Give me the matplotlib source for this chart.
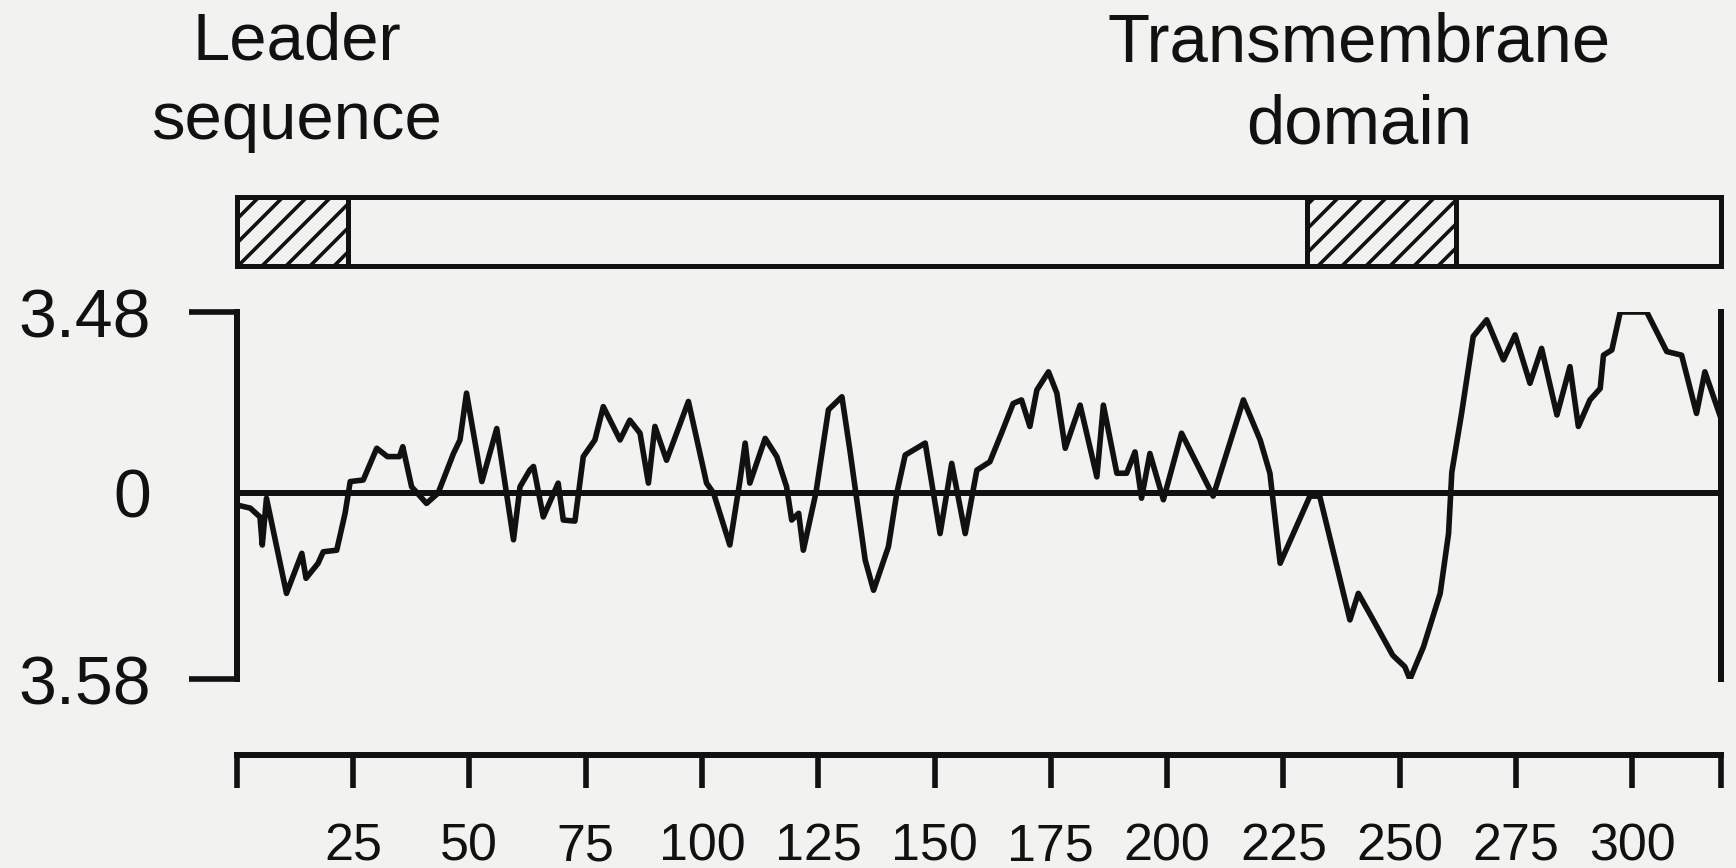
import numpy as np
import matplotlib.pyplot as plt
from matplotlib.patches import Rectangle

# hydropathy profile along the protein (residue number, score)
residue = [0, 2.9, 5.0, 5.5, 6.4, 10.7, 14.0, 14.9, 17.5, 18.6, 21.5, 23.3, 24.4,
           27.2, 30.1, 32.4, 35.0, 35.7, 37.6, 40.8, 43.3, 46.6, 48.0, 49.4, 52.7,
           55.9, 59.5, 60.9, 63.0, 63.8, 65.9, 69.1, 70.2, 72.7, 74.5, 77.0, 78.8,
           82.4, 84.5, 86.7, 88.5, 89.9, 92.4, 97.1, 101.0, 102.5, 106.0, 108.2,
           109.3, 110.3, 113.6, 116.1, 118.2, 119.3, 120.8, 121.8, 124.5, 127.2,
           130.1, 131.8, 133.3, 135.1, 136.9, 140.1, 141.9, 143.7, 148.0, 151.2,
           153.7, 156.6, 159.1, 161.9, 164.4, 166.9, 168.7, 170.5, 172.0, 174.5,
           176.3, 178.1, 181.3, 184.9, 186.3, 189.2, 191.3, 193.1, 194.5, 196.3,
           199.2, 203.1, 209.9, 216.4, 220.0, 222.1, 224.3, 230.7, 232.8, 239.3,
           241.1, 244.3, 248.5, 251.1, 252.2, 255.1, 258.7, 260.5, 261.2, 263.3,
           265.8, 268.7, 272.3, 274.8, 278.0, 280.5, 283.8, 286.6, 288.4, 290.9,
           293.1, 293.8, 295.6, 297.4, 303.1, 307.4, 310.6, 313.8, 315.6, 319.0]
hydropathy = [-0.23, -0.29, -0.46, -1.00, -0.10, -1.93, -1.16, -1.64, -1.35, -1.13,
              -1.10, -0.39, 0.22, 0.25, 0.86, 0.70, 0.70, 0.89, 0.12, -0.20, 0.00,
              0.76, 1.02, 1.92, 0.22, 1.24, -0.90, 0.12, 0.44, 0.51, -0.46, 0.19,
              -0.52, -0.54, 0.70, 1.02, 1.66, 1.02, 1.40, 1.15, 0.19, 1.28, 0.63,
              1.76, 0.19, 0.00, -1.00, 0.25, 0.96, 0.19, 1.05, 0.70, 0.12, -0.52,
              -0.39, -1.10, 0.00, 1.60, 1.85, 0.83, -0.13, -1.29, -1.87, -1.03,
              0.00, 0.73, 0.96, -0.78, 0.57, -0.78, 0.44, 0.60, 1.15, 1.72, 1.79,
              1.28, 1.98, 2.33, 1.92, 0.86, 1.69, 0.31, 1.69, 0.38, 0.38, 0.79,
              -0.10, 0.76, -0.13, 1.15, -0.06, 1.79, 1.02, 0.38, -1.35, -0.06,
              -0.06, -2.44, -1.93, -2.44, -3.12, -3.34, -3.58, -2.96, -1.93, -0.78,
              0.40, 1.53, 3.01, 3.33, 2.56, 3.04, 2.11, 2.78, 1.50, 2.43, 1.28,
              1.79, 2.01, 2.65, 2.75, 3.48, 3.48, 2.72, 2.65, 1.53, 2.33, 1.45]

# sequence bar: leader, mature part, transmembrane domain, cytoplasmic tail
segment_start = [0, 24, 230, 262]
segment_end = [24, 230, 262, 319]
segment_hatched = [True, False, True, False]

x_ticks = [0, 25, 50, 75, 100, 125, 150, 175, 200, 225, 250, 275, 300, 319]
x_tick_labels = ['', '25', '50', '75', '100', '125', '150', '175', '200',
                 '225', '250', '275', '300', '']
y_ticks = [3.48, -3.58]
y_tick_labels = ['3.48', '3.58']

BG = '#f2f2f0'
INK = '#111111'
DPI = 144
W, H = 1736, 868

plt.rcParams['font.family'] = ['Liberation Sans', 'DejaVu Sans']
plt.rcParams['hatch.linewidth'] = 1.8
plt.rcParams['hatch.color'] = INK

fig = plt.figure(figsize=(W / DPI, H / DPI), dpi=DPI, facecolor=BG)

# main hydropathy axes
left, right = 236.7, 1720.7
ax = fig.add_axes([left / W, 1 - 679.2 / H, (right - left) / W, (679.2 - 312.0) / H])
ax.set_facecolor('none')
ax.plot(residue, hydropathy, color=INK, lw=2.8)
ax.axhline(0, color=INK, lw=3)
ax.set_xlim(0, 319)
ax.set_ylim(-3.58, 3.48)

ax.spines['top'].set_visible(False)
for side in ['left', 'right', 'bottom']:
    ax.spines[side].set_linewidth(3)
    ax.spines[side].set_color(INK)
ax.spines['bottom'].set_position(('outward', 38))

ax.set_xticks(x_ticks, x_tick_labels)
ax.tick_params(axis='x', direction='out', length=16.5, width=2.8, pad=17,
               labelsize=26, colors=INK)
ax.set_yticks(y_ticks, y_tick_labels)
ax.tick_params(axis='y', direction='out', length=24, width=2.8, pad=19,
               labelsize=34, colors=INK)
ax.set_yticks([0], ['0'], minor=True)
ax.tick_params(axis='y', which='minor', length=0, pad=43, labelsize=34,
               colors=INK)

# sequence bar with hatched domains
ax_bar = fig.add_axes([left / W, 1 - 266 / H, (right - left) / W, (266 - 197) / H])
ax_bar.set_xlim(0, 319)
ax_bar.set_ylim(0, 1)
ax_bar.axis('off')
for s, e, h in zip(segment_start, segment_end, segment_hatched):
    ax_bar.add_patch(Rectangle((s, 0), e - s, 1, facecolor='none', edgecolor=INK,
                               lw=2.5, hatch='//' if h else None, clip_on=False))

fig.text(297 / W, 1 - 12 / H, 'Leader\nsequence', ha='center', va='top',
         fontsize=33.5, linespacing=1.35, color=INK)
fig.text(1359 / W, 1 - 12 / H, 'Transmembrane\ndomain', ha='center', va='top',
         fontsize=34.5, linespacing=1.35, color=INK)

fig.savefig('out.png', dpi=DPI, facecolor=BG)
